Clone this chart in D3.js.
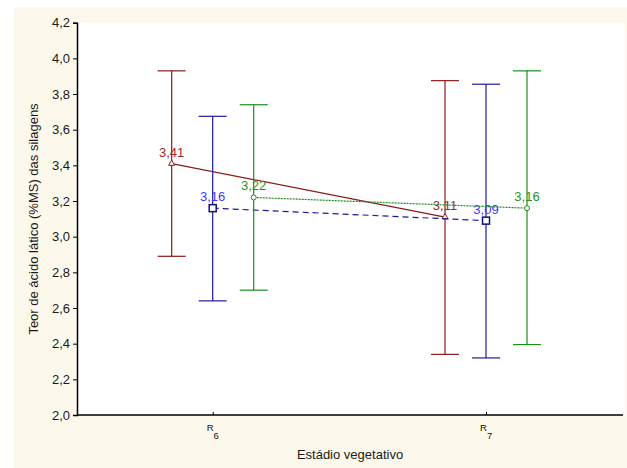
<!DOCTYPE html>
<html><head><meta charset="utf-8">
<script src="https://cdn.jsdelivr.net/npm/d3@7"></script>
<style>html,body{margin:0;padding:0;background:#fff;}svg{display:block;font-family:"Liberation Sans",Arial,sans-serif;}</style>
</head><body>
<script>
const categories = ["R6", "R7"];
const catLabels = [["R","6"],["R","7"]];
const seriesNames = ["A", "B", "C"];
const means = [[3.41, 3.11], [3.16, 3.09], [3.22, 3.16]];
const lowers = [[2.89, 2.34], [2.64, 2.32], [2.70, 2.395]];
const uppers = [[3.93, 3.875], [3.675, 3.855], [3.74, 3.93]];
const meanLabels = [["3,41","3,11"],["3,16","3,09"],["3,22","3,16"]];
const yTicks = [2.0,2.2,2.4,2.6,2.8,3.0,3.2,3.4,3.6,3.8,4.0,4.2];
const lineColors = ["#8b1a1a", "#1c1c9c", "#1e8c1e"];
const labelColors = ["#a02828", "#3a3aff", "#229922"];
const dashes = [null, "6,4", "2,1"];
const offsets = [-41, 0, 41];

const W = 627, H = 468;
const svg = d3.select("body").append("svg").attr("width", W).attr("height", H);
svg.append("rect").attr("x",14).attr("y",7).attr("width",W-14).attr("height",H-7).attr("fill","#fdf8ec");
const L = 77, R = 625, T = 22.7, B = 415;
svg.append("rect").attr("x",L).attr("y",T).attr("width",R-L).attr("height",B-T).attr("fill","#fff");

const y = d3.scaleLinear().domain([2.0, 4.2]).range([B, T]);
const x = d3.scalePoint().domain(categories).range([212.7, 486]);

// y axis
const yAxis = d3.axisLeft(y).tickValues(yTicks).tickSize(4).tickPadding(3).tickFormat(d => d3.format(".1f")(d).replace(".", ","));
const gy = svg.append("g").attr("transform", `translate(${L},0)`).call(yAxis);
gy.select(".domain").attr("stroke","#000").attr("stroke-width",1.5);
gy.selectAll(".tick line").attr("stroke","#000");
gy.selectAll(".tick text").attr("font-size",13).attr("fill","#1a1a1a").attr("font-family","Liberation Sans, Arial, sans-serif");

// x axis
const xAxis = d3.axisBottom(x).tickSizeInner(-3).tickSizeOuter(0).tickFormat("");
const gx = svg.append("g").attr("transform", `translate(0,${B})`).call(xAxis);
gx.select(".domain").attr("d", `M${L},0H${R-2}`).attr("stroke","#000").attr("stroke-width",1.5);
gx.selectAll(".tick line").attr("stroke","#000");
categories.forEach((c, i) => {
  const t = svg.append("text").attr("x", x(c) - 6).attr("y", B + 16).attr("font-size", 9.5).attr("fill", "#111");
  t.append("tspan").text(catLabels[i][0]);
  t.append("tspan").attr("dx", 0).attr("dy", 8).text(catLabels[i][1]);
});

// axis titles
svg.append("text").attr("x", 350).attr("y", 459).attr("text-anchor","middle").attr("font-size",13).attr("fill","#1a1a1a").text("Estádio vegetativo");
svg.append("text").attr("transform","translate(38,219) rotate(-90)").attr("text-anchor","middle").attr("font-size",13).attr("fill","#1a1a1a").text("Teor de ácido lático (%MS) das silagens");

// series
seriesNames.forEach((s, si) => {
  const g = svg.append("g");
  const pts = categories.map((c, ci) => ({x: x(c) + offsets[si], m: means[si][ci], lo: lowers[si][ci], hi: uppers[si][ci], lab: meanLabels[si][ci]}));
  pts.forEach(p => {
    g.append("line").attr("x1",p.x).attr("x2",p.x).attr("y1",y(p.lo)).attr("y2",y(p.hi)).attr("stroke",lineColors[si]).attr("stroke-width",1.2);
    [p.lo, p.hi].forEach(v => g.append("line").attr("x1",p.x-14).attr("x2",p.x+14).attr("y1",y(v)).attr("y2",y(v)).attr("stroke",lineColors[si]).attr("stroke-width",1.2));
  });
  const line = d3.line().x(p => p.x).y(p => y(p.m));
  const path = g.append("path").datum(pts).attr("d", line).attr("fill","none").attr("stroke",lineColors[si]).attr("stroke-width",1.2);
  if (dashes[si]) path.attr("stroke-dasharray", dashes[si]);
  pts.forEach(p => {
    if (si === 0) {
      g.append("path").attr("d", d3.symbol(d3.symbolTriangle, 16)()).attr("transform",`translate(${p.x},${y(p.m)})`).attr("fill","#fff").attr("stroke",lineColors[si]).attr("stroke-width",1);
    } else if (si === 1) {
      g.append("rect").attr("x",p.x-3.5).attr("y",y(p.m)-3.5).attr("width",7).attr("height",7).attr("fill","#fff").attr("stroke","#10107a").attr("stroke-width",1.5);
    } else {
      g.append("circle").attr("cx",p.x).attr("cy",y(p.m)).attr("r",2.5).attr("fill","#fff").attr("stroke",lineColors[si]).attr("stroke-width",1);
    }
    g.append("text").attr("x",p.x).attr("y",y(p.m)-7).attr("text-anchor","middle").attr("font-size",13).attr("fill",labelColors[si]).text(p.lab);
  });
});
</script>
</body></html>
